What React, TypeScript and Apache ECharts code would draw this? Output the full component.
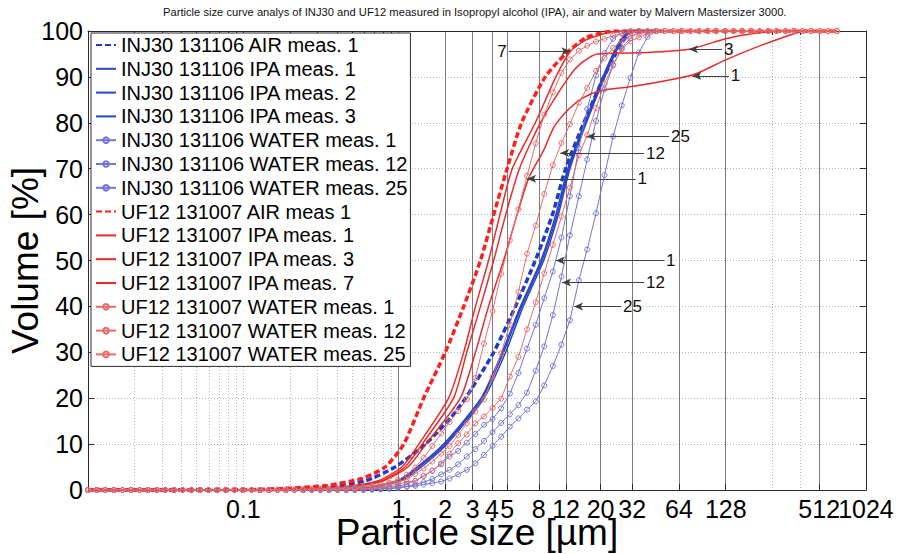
import React, { useEffect, useRef } from "react";
import * as echarts from "echarts";

const TITLE =
  "Particle size curve analys of INJ30 and UF12 measured in Isopropyl alcohol (IPA), air and water by Malvern Mastersizer 3000.";

// Mastersizer size classes (µm) where the WATER measurements are sampled
const sizeBins = [
  0.01, 0.0114, 0.0129, 0.0147, 0.0167, 0.0189, 0.0215, 0.0244, 0.0278, 0.0315,
  0.0358, 0.0407, 0.0463, 0.0526, 0.0597, 0.0679, 0.0771, 0.0876, 0.0995, 0.113,
  0.128, 0.146, 0.166, 0.188, 0.214, 0.243, 0.276, 0.314, 0.357, 0.405,
  0.46, 0.523, 0.594, 0.675, 0.767, 0.872, 0.991, 1.13, 1.28, 1.45,
  1.65, 1.88, 2.13, 2.42, 2.75, 3.12, 3.55, 4.03, 4.58, 5.21,
  5.92, 6.72, 7.64, 8.68, 9.86, 11.2, 12.7, 14.5, 16.4, 18.7,
  21.2, 24.1, 27.4, 31.1, 35.3, 40.1, 45.6, 51.8, 58.9, 66.9,
  76.0, 86.4, 98.1, 111, 127, 144, 163, 186, 211, 240,
  272, 310, 352, 400, 454, 516, 586, 666,
];

// INJ30 WATER (cumulative volume % per size class)
const injWater1 = [
  0, 0, 0, 0, 0, 0, 0, 0, 0, 0,
  0, 0, 0, 0, 0, 0, 0, 0, 0, 0,
  0, 0, 0, 0, 0, 0, 0, 0, 0, 0.03,
  0.06, 0.1, 0.18, 0.28, 0.42, 0.6, 0.8, 1.3, 2.0, 3.1,
  4.2, 5.6, 7.3, 8.5, 10.3, 12.2, 14.2, 15.5, 17.8, 21.0,
  25.5, 30.8, 36.0, 41.8, 47.6, 55.0, 64.0, 74.5, 83.0, 90.3,
  95.2, 98.3, 99.6, 100, 100, 100, 100,
];
const injWater12 = [
  0, 0, 0, 0, 0, 0, 0, 0, 0, 0,
  0, 0, 0, 0, 0, 0, 0, 0, 0, 0,
  0, 0, 0, 0, 0, 0, 0, 0, 0, 0,
  0, 0.03, 0.08, 0.14, 0.22, 0.34, 0.5, 0.8, 1.2, 1.7,
  2.4, 3.4, 4.4, 5.6, 7.3, 8.9, 10.7, 12.6, 14.6, 16.5,
  18.5, 21.2, 26.0, 31.3, 38.1, 46.5, 55.5, 64.0, 72.0, 80.4,
  87.3, 92.5, 96.3, 98.4, 100, 100, 100,
];
const injWater25 = [
  0, 0, 0, 0, 0, 0, 0, 0, 0, 0,
  0, 0, 0, 0, 0, 0, 0, 0, 0, 0,
  0, 0, 0, 0, 0, 0, 0, 0, 0, 0,
  0, 0, 0, 0.05, 0.15, 0.3, 0.5, 0.7, 0.9, 1.2,
  1.5, 1.85, 2.5, 3.4, 4.4, 5.8, 7.6, 9.6, 11.6, 13.8,
  15.6, 17.5, 19.3, 22.8, 27.0, 31.7, 37.0, 45.7, 52.4, 60.3,
  68.6, 77.0, 83.8, 89.8, 95.3, 98.7, 100,
];

// UF12 WATER
const ufWater1 = [
  0, 0, 0, 0, 0, 0, 0, 0, 0, 0,
  0, 0, 0, 0, 0, 0, 0, 0, 0, 0,
  0, 0, 0, 0.05, 0.1, 0.15, 0.2, 0.25, 0.3, 0.35,
  0.45, 0.55, 0.7, 0.9, 1.2, 1.6, 2.2, 3.3, 4.9, 7.0,
  9.6, 12.3, 14.8, 17.2, 19.8, 24.4, 31.9, 39.0, 47.1, 54.4,
  61.2, 68.4, 75.5, 81.8, 86.6, 90.9, 93.8, 95.7, 96.8, 97.7,
  98.3, 99.0, 99.4, 99.75, 99.9, 100, 100, 100, 100, 100,
  100, 100, 100, 100, 100, 100, 100, 100, 100, 100,
  100, 100, 100, 100, 100, 100, 100, 100,
];
const ufWater12 = [
  0, 0, 0, 0, 0, 0, 0, 0, 0, 0,
  0, 0, 0, 0, 0, 0, 0, 0, 0, 0,
  0, 0, 0, 0, 0.03, 0.05, 0.08, 0.12, 0.16, 0.22,
  0.3, 0.4, 0.55, 0.75, 1.0, 1.4, 1.8, 2.3, 3.5, 4.7,
  6.2, 7.9, 9.6, 12.0, 14.5, 17.1, 19.7, 24.6, 29.8, 36.0,
  43.2, 51.5, 57.6, 64.5, 70.8, 75.6, 79.7, 84.4, 87.6, 91.3,
  94.1, 96.3, 97.9, 98.9, 99.4, 99.8, 100, 100, 100, 100,
  100, 100, 100, 100, 100, 100, 100, 100, 100, 100,
  100, 100, 100, 100, 100, 100, 100, 100,
];
const ufWater25 = [
  0, 0, 0, 0, 0, 0, 0, 0, 0, 0,
  0, 0, 0, 0, 0, 0, 0, 0, 0, 0,
  0, 0, 0, 0, 0, 0, 0.02, 0.04, 0.06, 0.1,
  0.15, 0.22, 0.3, 0.42, 0.62, 0.9, 1.3, 1.7, 1.95, 3.0,
  4.2, 5.8, 7.9, 10.2, 12.1, 14.5, 16.0, 17.9, 19.9, 24.7,
  29.0, 35.0, 40.9, 47.2, 53.4, 59.6, 65.9, 72.9, 77.3, 83.2,
  88.5, 92.7, 96.0, 97.8, 98.6, 99.4, 100, 100, 100, 100,
  100, 100, 100, 100, 100, 100, 100, 100, 100, 100,
  100, 100, 100, 100, 100, 100, 100, 100,
];

// AIR and IPA curves: [size µm, cumulative volume %]
const injAir1 = [[0.01, 0], [0.15, 0.05], [0.3, 0.4], [0.61, 2], [0.95, 5], [1.49, 10], [2.2, 16], [2.7, 20], [4.1, 30], [5.66, 40], [7.6, 50], [9.8, 60], [11.9, 70], [15.6, 80], [21, 90], [26, 96], [32, 100], [45.6, 100]];
const injIpa1 = [[0.01, 0], [0.3, 0.05], [0.6, 0.5], [1.0, 2], [1.35, 5], [2.0, 10], [3.45, 20], [4.75, 30], [6.2, 40], [8.4, 50], [10.5, 60], [12.5, 70], [16, 80], [21, 90], [26, 97], [32, 100], [45.6, 100]];
const injIpa2 = [[0.01, 0], [0.3, 0.05], [0.62, 0.5], [1.03, 2], [1.4, 5], [2.05, 10], [3.55, 20], [4.9, 30], [6.35, 40], [8.6, 50], [10.7, 60], [12.7, 70], [16.2, 80], [21.3, 90], [26.5, 97], [32, 100], [45.6, 100]];
const injIpa3 = [[0.01, 0], [0.3, 0.05], [0.58, 0.5], [0.98, 2], [1.32, 5], [1.95, 10], [3.4, 20], [4.65, 30], [6.1, 40], [8.25, 50], [10.3, 60], [12.3, 70], [15.8, 80], [20.7, 90], [25.7, 97], [31, 100], [45.6, 100]];
const ufAir1 = [[0.01, 0], [0.1, 0.05], [0.2, 0.4], [0.35, 1], [0.58, 2.5], [0.82, 5], [1.08, 10], [1.45, 20], [2.0, 30], [2.63, 40], [3.37, 50], [4.1, 60], [5.0, 70], [6.2, 80], [8.8, 90], [11.9, 95], [16, 98.5], [21, 99.7], [25, 100], [666, 100]];
const ufIpa1 = [[0.01, 0], [0.15, 0.05], [0.3, 0.3], [0.5, 0.7], [0.8, 2], [1.15, 5], [1.5, 10], [2.5, 20], [3.13, 30], [3.8, 40], [4.75, 50], [5.8, 60], [6.9, 68], [8.6, 74], [10, 79], [12.5, 83], [15.5, 85.5], [20, 87], [30, 87.8], [41, 88.5], [78, 90.4], [128, 93.7], [210, 96.7], [380, 99.8], [420, 100], [666, 100]];
const ufIpa3 = [[0.01, 0], [0.15, 0.05], [0.3, 0.3], [0.5, 0.8], [0.78, 2], [1.1, 5], [1.42, 10], [2.26, 20], [2.75, 30], [3.37, 40], [4.1, 50], [4.9, 60], [6.0, 70], [8.2, 80], [12.5, 90], [15, 93], [19, 95], [40, 95.3], [74, 96], [128, 98.3], [180, 99.3], [300, 100], [666, 100]];
const ufIpa7 = [[0.01, 0], [0.15, 0.05], [0.3, 0.3], [0.5, 0.9], [0.74, 2], [1.05, 5], [1.35, 10], [2.1, 20], [2.63, 30], [3.13, 40], [3.8, 50], [4.5, 60], [5.4, 70], [7.6, 80], [10.3, 90], [12.8, 95.6], [16, 98], [20, 99.2], [26, 100], [666, 100]];

// axis ticks
const xLabelTicks = [0.1, 1, 2, 3, 4, 5, 8, 12, 20, 32, 64, 128, 1024];
const xLabelTicksExtra = [512];
const xMajorTicks = [1, 2, 3, 4, 5, 8, 12, 20, 32, 64, 128, 512, 1024];
const xMinorTicks = [
  0.02, 0.03, 0.04, 0.05, 0.06, 0.07, 0.08, 0.09, 0.1,
  0.2, 0.3, 0.4, 0.5, 0.6, 0.7, 0.8, 0.9, 256, 384,
];

// arrow annotations: label, level %, from size, to size (arrow tip)
const annotations = [
  { series: "UF12 131007 IPA meas. 7", text: "7", level: 95.6, from: 5.13, to: 12.8 },
  { series: "UF12 131007 IPA meas. 3", text: "3", level: 96.0, from: 121, to: 74.3 },
  { series: "UF12 131007 IPA meas. 1", text: "1", level: 90.2, from: 134, to: 78 },
  { series: "UF12 131007 WATER meas. 25", text: "25", level: 77, from: 55.2, to: 16.3 },
  { series: "UF12 131007 WATER meas. 12", text: "12", level: 73.4, from: 38.1, to: 11.0 },
  { series: "UF12 131007 WATER meas. 1", text: "1", level: 67.8, from: 33.6, to: 6.73 },
  { series: "INJ30 131106 WATER meas. 1", text: "1", level: 50, from: 51.3, to: 10.3 },
  { series: "INJ30 131106 WATER meas. 12", text: "12", level: 45.2, from: 38.1, to: 11.3 },
  { series: "INJ30 131106 WATER meas. 25", text: "25", level: 40, from: 27.1, to: 13.5 },
];

const NARROW = "'Liberation Sans Narrow', 'Arial Narrow', 'Liberation Sans', Arial, sans-serif";
const SANS = "'Liberation Sans', Arial, sans-serif";

const BLUE_DARK = "#1f3cc8";
const BLUE_IPA = "#2a44c4";
const BLUE_WATER = "#7474d4";
const RED_AIR = "#ff1f1f";
const RED_IPA = "#ea2a2a";
const RED_WATER = "#e66a6a";

function markFor(name: string) {
  const items = annotations.filter((a) => a.series === name);
  if (!items.length) return undefined;
  return {
    silent: true,
    symbol: ["none", "arrow"],
    symbolSize: [6, 9],
    precision: 4,
    lineStyle: { color: "#404040", width: 1, type: "solid" },
    label: {
      show: true,
      position: "start",
      formatter: "{b}",
      color: "#111",
      fontSize: 17,
      fontFamily: NARROW,
      distance: 2,
    },
    emphasis: { disabled: true },
    data: items.map((a) => [
      { name: a.text, coord: [a.from, a.level] },
      { coord: [a.to, a.level] },
    ]),
  };
}

function smoothLine(name: string, pts: number[][], color: string, width: number, dashed: boolean) {
  return {
    name,
    type: "line",
    data: pts,
    symbol: "none",
    showSymbol: false,
    smooth: 0.22,
    lineStyle: { color, width, type: dashed ? [6, 3] : "solid" },
    itemStyle: { color },
    markLine: markFor(name),
  };
}

function waterLine(name: string, vals: number[], color: string) {
  return {
    name,
    type: "line",
    data: vals.map((v, i) => [sizeBins[i], v]),
    symbol: "circle",
    symbolSize: 5,
    showSymbol: true,
    lineStyle: { color, width: 1 },
    itemStyle: { color: "rgba(255,255,255,0)", borderColor: color, borderWidth: 1 },
    markLine: markFor(name),
  };
}

const series = [
  smoothLine("INJ30 131106 AIR meas. 1", injAir1, BLUE_DARK, 3.5, true),
  smoothLine("INJ30 131106 IPA meas. 1", injIpa1, BLUE_IPA, 1.5, false),
  smoothLine("INJ30 131106 IPA meas. 2", injIpa2, BLUE_IPA, 1.5, false),
  smoothLine("INJ30 131106 IPA meas. 3", injIpa3, BLUE_IPA, 1.5, false),
  waterLine("INJ30 131106 WATER meas. 1", injWater1, BLUE_WATER),
  waterLine("INJ30 131106 WATER meas. 12", injWater12, BLUE_WATER),
  waterLine("INJ30 131106 WATER meas. 25", injWater25, BLUE_WATER),
  smoothLine("UF12 131007 AIR meas 1", ufAir1, RED_AIR, 3.5, true),
  smoothLine("UF12 131007 IPA meas. 1", ufIpa1, RED_IPA, 1.5, false),
  smoothLine("UF12 131007 IPA meas. 3", ufIpa3, RED_IPA, 1.5, false),
  smoothLine("UF12 131007 IPA meas. 7", ufIpa7, RED_IPA, 1.5, false),
  waterLine("UF12 131007 WATER meas. 1", ufWater1, RED_WATER),
  waterLine("UF12 131007 WATER meas. 12", ufWater12, RED_WATER),
  waterLine("UF12 131007 WATER meas. 25", ufWater25, RED_WATER),
];

const fmtX = (v: number) => (v < 1 ? String(v) : String(Math.round(v)));

const X_MIN = 0.01;
const X_MAX = 1024.5;

const tickLabelStyle = {
  formatter: fmtX,
  showMinLabel: true,
  showMaxLabel: true,
  hideOverlap: false,
  fontSize: 25,
  lineHeight: 18,
  fontFamily: NARROW,
  color: "#000",
  margin: 10,
};

const option = {
  animation: false,
  backgroundColor: "#ffffff",
  title: {
    text: TITLE,
    left: 163,
    top: 6,
    padding: 0,
    textStyle: { fontSize: 11.2, fontWeight: "normal", fontFamily: NARROW, color: "#111" },
  },
  grid: { left: 88, top: 31, width: 778, height: 459, show: false, outerBoundsMode: "none", containLabel: false },
  legend: {
    orient: "vertical",
    left: 91,
    top: 33,
    padding: [2, 3, 2, 4],
    itemGap: 3.8,
    itemWidth: 20,
    itemHeight: 7,
    backgroundColor: "#ffffff",
    borderColor: "#2a2a2a",
    borderWidth: 1,
    borderRadius: 0,
    textStyle: { fontSize: 20, lineHeight: 20, fontFamily: SANS, color: "#000" },
    data: series.map((s) =>
      s.symbol === "none" ? { name: s.name, itemStyle: { opacity: 0 } } : { name: s.name }
    ),
  },
  xAxis: [
    {
      type: "log",
      logBase: 10,
      min: X_MIN,
      max: X_MAX,
      position: "bottom",
      axisLine: { show: true, onZero: false, lineStyle: { color: "#2a2a2a", width: 1 } },
      axisTick: {
        show: true,
        inside: true,
        length: 6,
        customValues: xMajorTicks,
        lineStyle: { color: "#2a2a2a" },
      },
      axisLabel: { ...tickLabelStyle, customValues: xLabelTicks },
      splitLine: { show: true, lineStyle: { color: "#7a7a7a", width: 1 } },
      name: "Particle size [µm]",
      nameLocation: "middle",
      nameGap: 31,
      nameMoveOverlap: false,
      nameTextStyle: { fontSize: 37, lineHeight: 22, fontFamily: SANS, color: "#000", verticalAlign: "top" },
    },
    {
      type: "log",
      logBase: 10,
      min: X_MIN,
      max: X_MAX,
      position: "top",
      axisLine: { show: true, onZero: false, lineStyle: { color: "#2a2a2a", width: 1 } },
      axisTick: {
        show: true,
        inside: true,
        length: 4,
        customValues: xMinorTicks,
        lineStyle: { color: "#2a2a2a" },
      },
      axisLabel: { show: false },
      splitLine: { show: true, lineStyle: { color: "#b4b4b4", width: 1, type: [1, 2] } },
    },
    {
      type: "log",
      logBase: 10,
      min: X_MIN,
      max: X_MAX,
      position: "bottom",
      axisLine: { show: false, onZero: false },
      axisTick: { show: false, customValues: xLabelTicksExtra },
      axisLabel: { ...tickLabelStyle, customValues: xLabelTicksExtra },
      splitLine: { show: false },
    },
  ],
  yAxis: [
    {
      type: "value",
      min: 0,
      max: 100,
      interval: 10,
      position: "left",
      axisLine: { show: true, onZero: false, lineStyle: { color: "#2a2a2a", width: 1 } },
      axisTick: { show: true, inside: true, length: 6, lineStyle: { color: "#2a2a2a" } },
      axisLabel: { fontSize: 25, lineHeight: 20, fontFamily: NARROW, color: "#000", margin: 5 },
      splitLine: { show: true, lineStyle: { color: "#b4b4b4", width: 1, type: [1, 2] } },
      name: "Volume [%]",
      nameLocation: "middle",
      nameGap: 44,
      nameRotate: 90,
      nameMoveOverlap: false,
      nameTextStyle: { fontSize: 37, fontFamily: SANS, color: "#000", verticalAlign: "bottom" },
    },
    {
      type: "value",
      min: 0,
      max: 100,
      interval: 10,
      position: "right",
      axisLine: { show: true, onZero: false, lineStyle: { color: "#2a2a2a", width: 1 } },
      axisTick: { show: true, inside: true, length: 6, lineStyle: { color: "#2a2a2a" } },
      axisLabel: { show: false },
      splitLine: { show: false },
    },
  ],
  series,
};

export default function App() {
  const ref = useRef<HTMLDivElement>(null);
  useEffect(() => {
    if (!ref.current) return;
    const chart = echarts.init(ref.current, null, { renderer: "svg" });
    chart.setOption(option as any);
    return () => chart.dispose();
  }, []);
  return (
    <div
      ref={ref}
      style={{ position: "fixed", left: 0, top: 0, width: 897, height: 554, background: "#fff" }}
    />
  );
}
